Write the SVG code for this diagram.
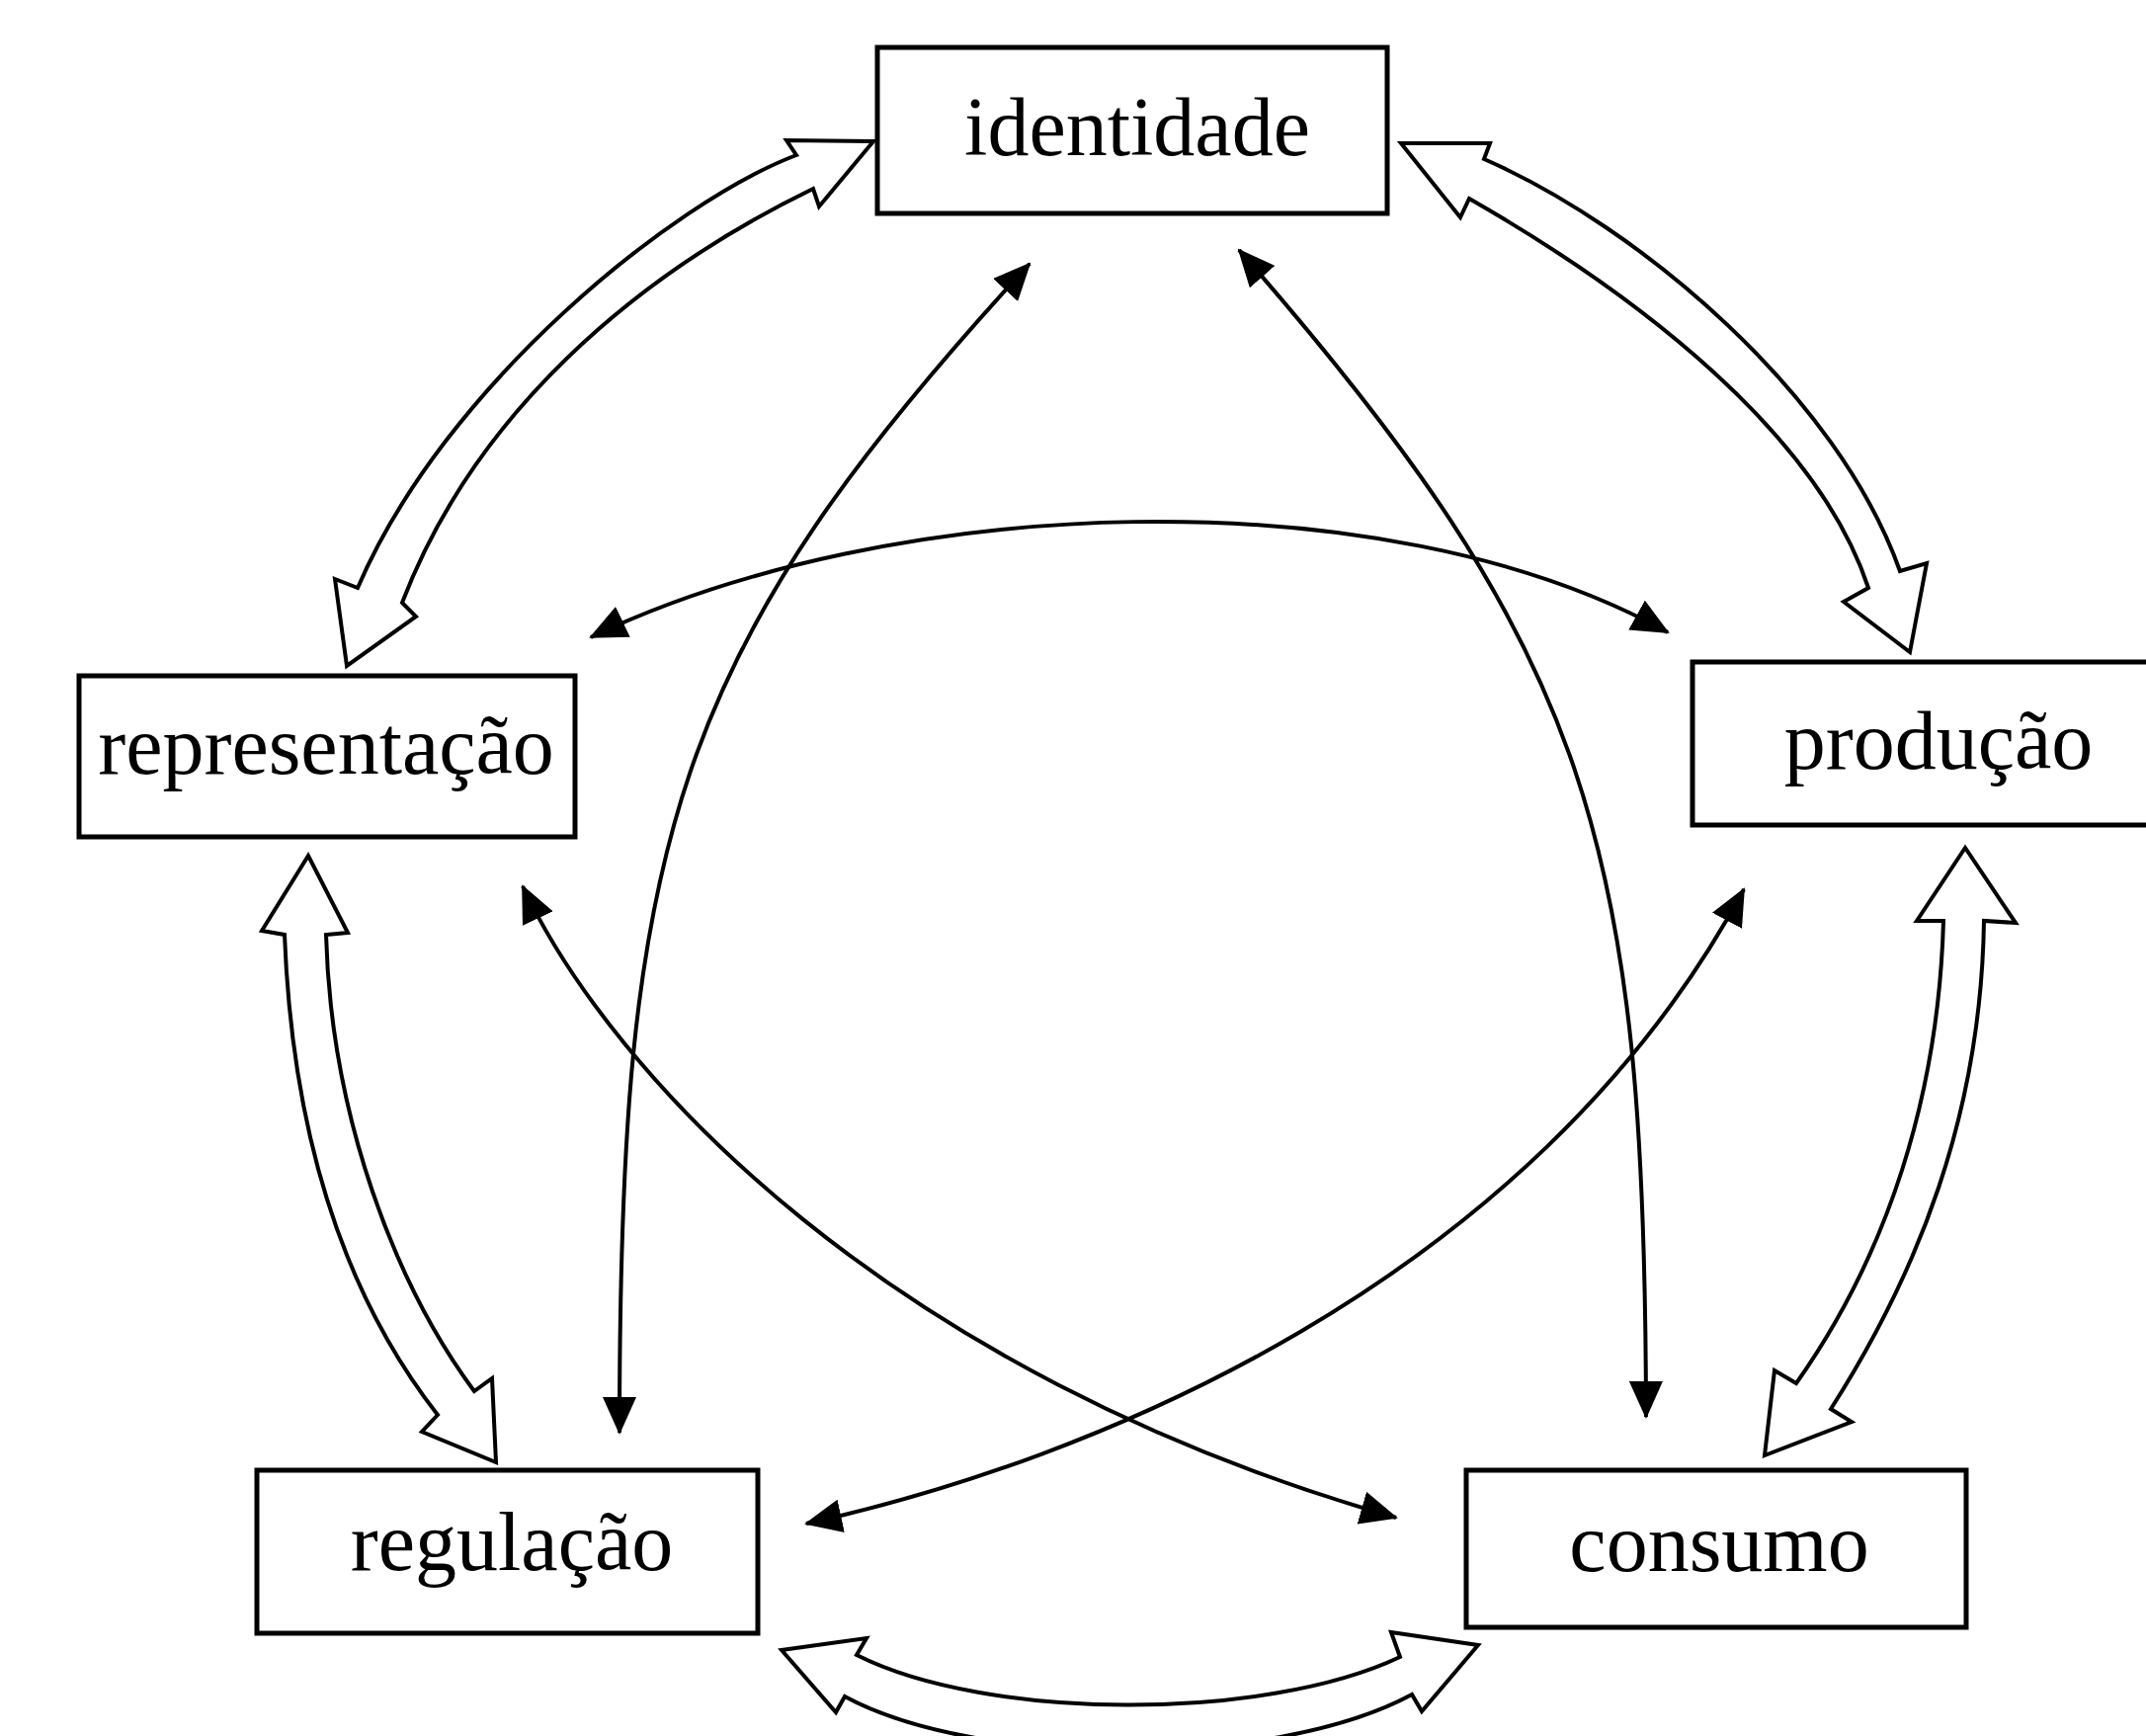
<svg xmlns="http://www.w3.org/2000/svg" width="2172" height="1757" viewBox="0 0 2172 1757">
<style>
.box{fill:#fff;stroke:#000;stroke-width:5}
.lbl{font-family:"Liberation Serif","Times New Roman",serif;font-size:84px;fill:#000;text-anchor:middle}
.hollow{fill:#fff;stroke:#000;stroke-width:4;stroke-linejoin:miter}
.thin{fill:none;stroke:#000;stroke-width:4;marker-start:url(#ah);marker-end:url(#ah)}
</style>
<defs>
<marker id="ah" viewBox="0 0 38 34" refX="36" refY="17" markerWidth="38" markerHeight="34" markerUnits="userSpaceOnUse" orient="auto-start-reverse">
<path d="M0,0 L38,17 L0,34 z" fill="#000"/>
</marker>
</defs>
<rect width="2172" height="1757" fill="#fff"/>
<g id="connectors">
<path id="a-ident-repr" class="hollow" d="M884 143 L796 142 L806 157 C680 205 450 390 362 595 L339 586 L351 674 L421 624 L407 610 C480 420 640 280 823 191 L829 209 Z"/>
<path id="a-ident-prod" class="hollow" d="M1418 145 L1508 145 L1502 161 C1660 230 1860 400 1923 578 L1950 570 L1933 660 L1866 609 L1891 595 C1840 440 1660 300 1487 201 L1478 220 Z"/>
<path id="a-repr-reg" class="hollow" d="M312 866 L265 942 L288 946 C295 1130 340 1300 443 1432 L427 1449 L502 1480 L498 1395 L480 1408 C400 1300 335 1130 330 946 L352 944 Z"/>
<path id="a-prod-cons" class="hollow" d="M1989 858 L1940 932 L1967 932 C1962 1110 1910 1270 1818 1400 L1796 1387 L1786 1473 L1874 1439 L1853 1426 C1940 1290 2005 1130 2008 932 L2040 934 Z"/>
<path id="a-reg-cons" class="hollow" d="M791 1670 L877 1658 L867 1675 C1000 1742 1280 1742 1417 1677 L1408 1652 L1496 1665 L1439 1732 L1429 1715 C1290 1790 990 1790 855 1717 L846 1733 Z"/>
<path id="l-reg-ident" class="thin" d="M627 1450 C627 850 680 660 1042 267"/>
<path id="l-cons-ident" class="thin" d="M1666 1434 C1665 850 1610 660 1254 253"/>
<path id="l-repr-prod" class="thin" d="M598 645 C900 500 1400 480 1688 640"/>
<path id="l-repr-cons" class="thin" d="M529 897 C620 1090 900 1390 1413 1536"/>
<path id="l-reg-prod" class="thin" d="M816 1542 C1100 1480 1550 1300 1765 900"/>
</g>
<g id="identidade">
<rect class="box" x="888" y="48" width="516" height="168"/>
<text class="lbl" x="1151" y="157">identidade</text>
</g>
<g id="representacao">
<rect class="box" x="80" y="684" width="502" height="163"/>
<text class="lbl" x="330" y="783">representação</text>
</g>
<g id="producao">
<rect class="box" x="1713" y="670" width="480" height="165"/>
<text class="lbl" x="1962" y="778">produção</text>
</g>
<g id="regulacao">
<rect class="box" x="260" y="1488" width="507" height="165"/>
<text class="lbl" x="518" y="1589">regulação</text>
</g>
<g id="consumo">
<rect class="box" x="1484" y="1488" width="506" height="159"/>
<text class="lbl" x="1740" y="1590">consumo</text>
</g>
</svg>
